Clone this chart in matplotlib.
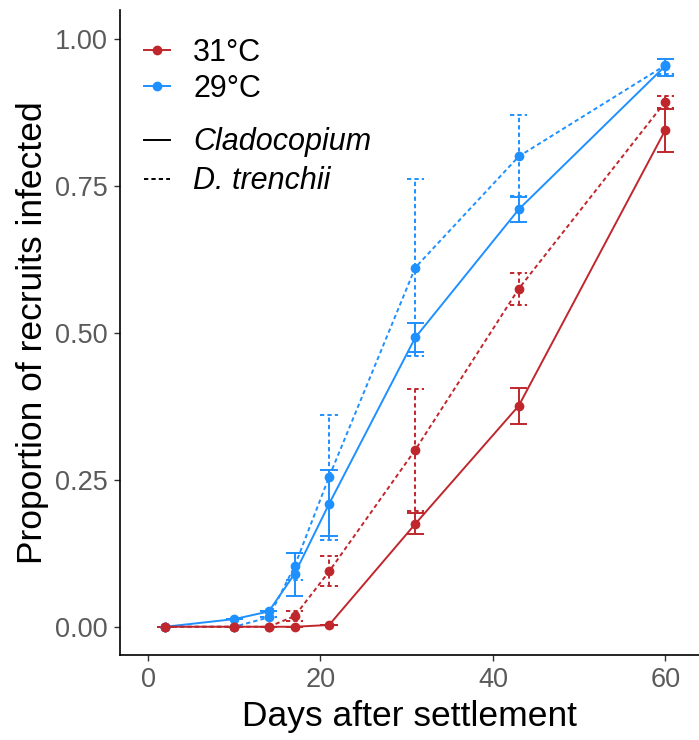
import matplotlib
matplotlib.use('Agg')
import matplotlib.pyplot as plt
from matplotlib.lines import Line2D

plt.rcParams['font.family'] = ['Liberation Sans', 'DejaVu Sans']

days = [2, 10, 14, 17, 21, 31, 43, 60]

# 31°C
red_clado = [0, 0, 0, 0, 0.003, 0.175, 0.376, 0.845]
red_clado_lo = [0, 0, 0, 0, 0.003, 0.158, 0.345, 0.808]
red_clado_hi = [0, 0, 0, 0, 0.003, 0.193, 0.406, 0.881]
red_trench = [0, 0, 0, 0.018, 0.094, 0.301, 0.575, 0.893]
red_trench_lo = [0, 0, 0, 0.009, 0.069, 0.197, 0.547, 0.882]
red_trench_hi = [0, 0, 0, 0.026, 0.121, 0.405, 0.601, 0.903]

# 29°C
blue_clado = [0, 0.013, 0.026, 0.090, 0.209, 0.492, 0.710, 0.954]
blue_clado_lo = [0, 0.013, 0.026, 0.052, 0.154, 0.467, 0.689, 0.936]
blue_clado_hi = [0, 0.013, 0.026, 0.126, 0.266, 0.516, 0.731, 0.965]
blue_trench = [0, 0, 0.016, 0.103, 0.255, 0.611, 0.800, 0.955]
blue_trench_lo = [0, 0, 0.016, 0.080, 0.148, 0.460, 0.732, 0.940]
blue_trench_hi = [0, 0, 0.016, 0.126, 0.360, 0.761, 0.870, 0.965]

RED = '#C0272D'
BLUE = '#1E90FF'
DASH = (0, (2.2, 1.6))


def draw_series(ax, y, lo, hi, color, ls):
    '''Line + points + error bars with caps (caps follow the line type).'''
    ax.plot(days, y, color=color, linestyle=ls, lw=1.4,
            marker='o', markersize=6, zorder=3)
    ax.vlines(days, lo, hi, color=color, linestyle=ls, lw=1.4, zorder=2)
    left = [d - 1 for d in days]
    right = [d + 1 for d in days]
    ax.hlines(lo, left, right, color=color, linestyle=ls, lw=1.4, zorder=2)
    ax.hlines(hi, left, right, color=color, linestyle=ls, lw=1.4, zorder=2)


fig = plt.figure(figsize=(6.99, 7.40), dpi=100)
ax = fig.add_axes([0.1717, 0.1149, 0.8283, 0.8716])

draw_series(ax, blue_trench, blue_trench_lo, blue_trench_hi, BLUE, DASH)
draw_series(ax, blue_clado, blue_clado_lo, blue_clado_hi, BLUE, '-')
draw_series(ax, red_trench, red_trench_lo, red_trench_hi, RED, DASH)
draw_series(ax, red_clado, red_clado_lo, red_clado_hi, RED, '-')

ax.set_xlim(-3.25, 63.9)
ax.set_ylim(-0.048, 1.049)
ax.set_xticks([0, 20, 40, 60])
ax.set_yticks([0, 0.25, 0.5, 0.75, 1.0])
ax.set_yticklabels(['0.00', '0.25', '0.50', '0.75', '1.00'])

for side in ['top', 'right']:
    ax.spines[side].set_visible(False)
for side in ['left', 'bottom']:
    ax.spines[side].set_linewidth(1.2)
ax.tick_params(labelsize=19.5, labelcolor='#5a5a5a', color='#333333',
               length=4, width=1, pad=5)

ax.set_xlabel('Days after settlement', fontsize=25.5, labelpad=5)
ax.set_ylabel('Proportion of recruits infected', fontsize=25.5, labelpad=4)

temp_handles = [
    Line2D([], [], color=RED, lw=1.4, marker='o', markersize=6),
    Line2D([], [], color=BLUE, lw=1.4, marker='o', markersize=6),
]
leg1 = ax.legend(temp_handles, ['31°C', '29°C'], loc='upper left',
                 bbox_to_anchor=(0.206, 0.949), bbox_transform=fig.transFigure,
                 frameon=False, fontsize=22, handlelength=0.86,
                 handletextpad=0.75, labelspacing=0.2, borderpad=0,
                 borderaxespad=0)
ax.add_artist(leg1)

type_handles = [
    Line2D([], [], color='black', lw=1.4, linestyle='-'),
    Line2D([], [], color='black', lw=1.4, linestyle=DASH),
]
leg2 = ax.legend(type_handles, ['Cladocopium', 'D. trenchii'], loc='upper left',
                 bbox_to_anchor=(0.206, 0.828), bbox_transform=fig.transFigure,
                 frameon=False, handlelength=0.86,
                 handletextpad=0.75, labelspacing=0.3, borderpad=0,
                 borderaxespad=0, prop={'style': 'italic', 'size': 22})

fig.savefig('out.png', dpi=100)
